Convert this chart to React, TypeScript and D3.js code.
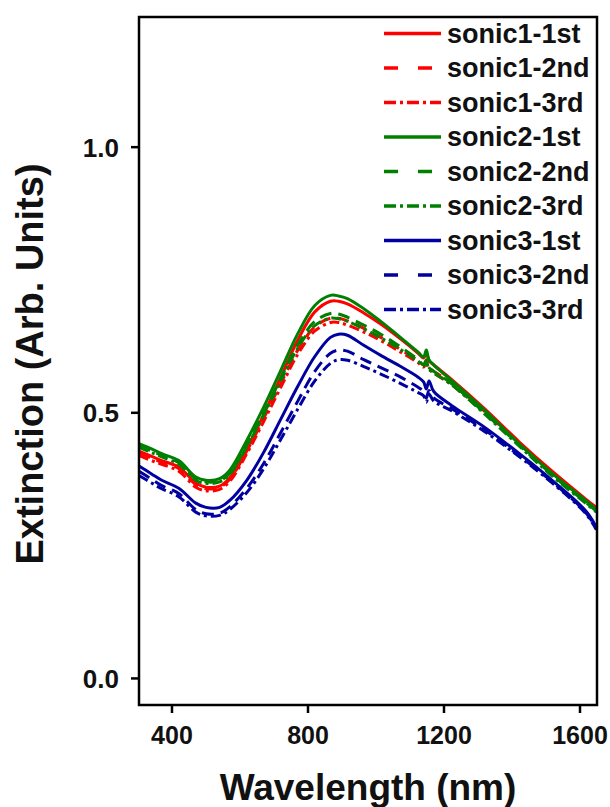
import React from "react";
import * as d3 from "d3";

const wavelengths = [303, 340, 370, 420, 470, 500, 540, 570, 620, 670, 720, 770, 820, 866, 890, 916, 964, 1014, 1070, 1124, 1140, 1148, 1156, 1170, 1222, 1319, 1420, 1518, 1616, 1648];

const sonic1_1st = [0.428, 0.418, 0.41, 0.398, 0.368, 0.36, 0.362, 0.378, 0.432, 0.497, 0.567, 0.637, 0.69, 0.71, 0.71, 0.705, 0.688, 0.667, 0.64, 0.612, 0.603, 0.612, 0.598, 0.59, 0.563, 0.508, 0.446, 0.39, 0.338, 0.322];
const sonic1_2nd = [0.425, 0.415, 0.407, 0.395, 0.365, 0.357, 0.36, 0.375, 0.428, 0.49, 0.555, 0.618, 0.662, 0.678, 0.678, 0.673, 0.659, 0.642, 0.62, 0.598, 0.59, 0.598, 0.585, 0.578, 0.556, 0.503, 0.443, 0.387, 0.336, 0.32];
const sonic1_3rd = [0.42, 0.41, 0.403, 0.39, 0.36, 0.353, 0.356, 0.371, 0.423, 0.484, 0.548, 0.61, 0.654, 0.67, 0.67, 0.665, 0.652, 0.636, 0.615, 0.594, 0.586, 0.594, 0.582, 0.575, 0.553, 0.5, 0.441, 0.385, 0.334, 0.318];
const sonic2_1st = [0.442, 0.432, 0.423, 0.41, 0.379, 0.373, 0.376, 0.392, 0.448, 0.511, 0.58, 0.649, 0.702, 0.721, 0.72, 0.715, 0.696, 0.672, 0.643, 0.614, 0.605, 0.618, 0.6, 0.59, 0.561, 0.505, 0.442, 0.386, 0.335, 0.318];
const sonic2_2nd = [0.438, 0.428, 0.42, 0.406, 0.376, 0.37, 0.372, 0.386, 0.44, 0.5, 0.565, 0.628, 0.672, 0.687, 0.686, 0.68, 0.665, 0.648, 0.625, 0.6, 0.59, 0.6, 0.585, 0.578, 0.555, 0.5, 0.44, 0.383, 0.332, 0.315];
const sonic2_3rd = [0.435, 0.425, 0.417, 0.403, 0.373, 0.367, 0.37, 0.384, 0.436, 0.496, 0.56, 0.622, 0.664, 0.678, 0.677, 0.672, 0.658, 0.641, 0.62, 0.597, 0.588, 0.596, 0.582, 0.575, 0.553, 0.498, 0.438, 0.381, 0.33, 0.313];
const sonic3_1st = [0.4, 0.385, 0.373, 0.358, 0.33, 0.322, 0.322, 0.335, 0.373, 0.426, 0.488, 0.55, 0.606, 0.642, 0.648, 0.646, 0.627, 0.608, 0.588, 0.567, 0.558, 0.545, 0.56, 0.54, 0.514, 0.473, 0.424, 0.373, 0.316, 0.285];
const sonic3_2nd = [0.39, 0.375, 0.363, 0.348, 0.318, 0.31, 0.311, 0.323, 0.358, 0.405, 0.463, 0.522, 0.578, 0.612, 0.618, 0.616, 0.6, 0.585, 0.568, 0.548, 0.54, 0.528, 0.542, 0.528, 0.508, 0.468, 0.42, 0.37, 0.313, 0.283];
const sonic3_3rd = [0.382, 0.368, 0.357, 0.342, 0.313, 0.306, 0.307, 0.318, 0.35, 0.395, 0.45, 0.507, 0.56, 0.593, 0.6, 0.599, 0.587, 0.573, 0.556, 0.538, 0.532, 0.52, 0.535, 0.522, 0.504, 0.465, 0.418, 0.368, 0.311, 0.28];

const seriesNames = ["sonic1-1st", "sonic1-2nd", "sonic1-3rd", "sonic2-1st", "sonic2-2nd", "sonic2-3rd", "sonic3-1st", "sonic3-2nd", "sonic3-3rd"];
const seriesValues = [sonic1_1st, sonic1_2nd, sonic1_3rd, sonic2_1st, sonic2_2nd, sonic2_3rd, sonic3_1st, sonic3_2nd, sonic3_3rd];

const xTicks = [400, 800, 1200, 1600];
const yTicks = [0.0, 0.5, 1.0];

const COLORS = ["#ff0000", "#ff0000", "#ff0000", "#008000", "#008000", "#008000", "#0000a0", "#0000a0", "#0000a0"];
const DASHES = [null, "12,7", "10,4,3,4", null, "12,7", "10,4,3,4", null, "12,7", "10,4,3,4"];
const LEGEND_DASHES = [null, "14,20", "12,4,3,4", null, "14,20", "12,4,3,4", null, "14,20", "12,4,3,4"];

const W = 610, H = 807;
const L = 139, R = 597, T = 17, B = 705;
const FONT = "'Liberation Sans', Arial, sans-serif";

export default function App() {
  const x = d3.scaleLinear().domain([303, 1650]).range([L, R]);
  const y = d3.scaleLinear().domain([-0.05, 1.245]).range([B, T]);
  const line = d3
    .line<number>()
    .x((_, i) => x(wavelengths[i]))
    .y((d) => y(d))
    .curve(d3.curveCatmullRom.alpha(0.5));

  return (
    <svg width={W} height={H} style={{ position: "absolute", left: 0, top: 0, background: "#fff" }} fontFamily={FONT}>
      <defs>
        <clipPath id="plot">
          <rect x={L} y={T} width={R - L} height={B - T} />
        </clipPath>
      </defs>
      <rect x={0} y={0} width={W} height={H} fill="#fff" />
      <g clipPath="url(#plot)">
        {seriesValues.map((vals, i) => (
          <path
            key={seriesNames[i]}
            d={line(vals) || ""}
            fill="none"
            stroke={COLORS[i]}
            strokeWidth={3}
            strokeDasharray={DASHES[i] || undefined}
          />
        ))}
      </g>
      <rect x={L} y={T} width={R - L} height={B - T} fill="none" stroke="#000" strokeWidth={2.5} />
      {xTicks.map((t) => (
        <g key={"x" + t}>
          <line x1={x(t)} x2={x(t)} y1={B} y2={B + 8} stroke="#000" strokeWidth={2.5} />
          <text x={x(t)} y={744} textAnchor="middle" fontSize={25} fontWeight="bold" fill="#111">
            {t}
          </text>
        </g>
      ))}
      {yTicks.map((t) => (
        <g key={"y" + t}>
          <line x1={L - 8} x2={L} y1={y(t)} y2={y(t)} stroke="#000" strokeWidth={2.5} />
          <text x={119} y={y(t)} dy="0.36em" textAnchor="end" fontSize={26} fontWeight="bold" fill="#111">
            {t.toFixed(1)}
          </text>
        </g>
      ))}
      <text x={(L + R) / 2} y={800} textAnchor="middle" fontSize={37} fontWeight="bold" fill="#111">
        Wavelength (nm)
      </text>
      <text
        transform={`translate(43, 364) rotate(-90)`}
        textAnchor="middle"
        fontSize={38}
        fontWeight="bold"
        fill="#111"
      >
        Extinction (Arb. Units)
      </text>
      {seriesNames.map((name, i) => {
        const cy = 33.5 + i * 34.5;
        return (
          <g key={"leg" + name}>
            <line
              x1={384}
              x2={441}
              y1={cy}
              y2={cy}
              stroke={COLORS[i]}
              strokeWidth={3.5}
              strokeDasharray={LEGEND_DASHES[i] || undefined}
            />
            <text x={447} y={cy} dy="0.35em" fontSize={27} fontWeight="bold" fill="#111">
              {name}
            </text>
          </g>
        );
      })}
    </svg>
  );
}
